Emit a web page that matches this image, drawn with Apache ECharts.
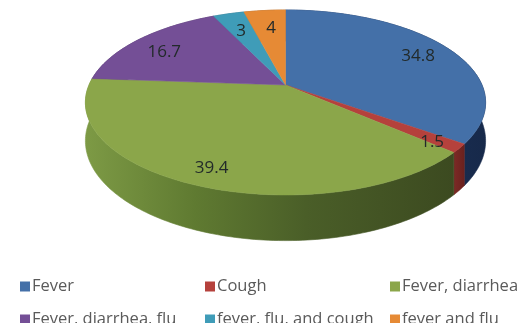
<!DOCTYPE html>
<html>
<head>
<meta charset="utf-8">
<style>html,body{margin:0;padding:0;background:#fff;overflow:hidden}#c{width:520px;height:323px}</style>
<script src="https://cdn.jsdelivr.net/npm/echarts@6/dist/echarts.min.js"></script>
</head>
<body>
<div id="c"></div>
<script>
// Symptom shares shown as a tilted 3D pie
const categories = ['Fever', 'Cough', 'Fever, diarrhea', 'Fever, diarrhea, flu', 'fever, flu, and cough', 'fever and flu'];
const shares = [34.8, 1.5, 39.4, 16.7, 3, 4];
const topColors = ['#4470a8', '#b5413c', '#8ba64a', '#744f96', '#3f9cb8', '#e68a35'];
const wallStops = [
  [[0, '#1f3a68'], [1, '#17294a']],
  [[0, '#7c2a26'], [1, '#6a211e']],
  [[0, '#7d9a45'], [0.3, '#5f7a31'], [0.6, '#4a5e28'], [1, '#3c4a20']],
  [[0, '#4f3568'], [1, '#4f3568']],
  [[0, '#2a6c80'], [1, '#2a6c80']],
  [[0, '#a05f24'], [1, '#a05f24']]
];

// Projection of the disc: a circle seen in perspective, hub near the back
const hub = { x: 285.5, y: 85 };
const radiusX = 196.5, radiusY = 89.2, tilt = 0.189, depth = 37;
const labelReach = [0.81, 0.87, 0.83, 0.82, 0.79, 0.76];
const labelNudge = [[0, 2], [-2, 3], [0, 3], [1, 5], [2, 4], [2, 2]];

// Legend slots, in category order
const legendLefts = [15, 200, 385, 15, 200, 385];
const legendTops = [273, 273, 273, 306, 306, 306];

const total = shares.reduce((a, b) => a + b, 0);

function project(angle, r, drop) {
  const u = Math.sin(angle) * r, v = -Math.cos(angle) * r;
  const w = 1 - tilt * v;
  return [hub.x + radiusX * u / w, hub.y + (radiusY * v + drop) / w];
}

function arc(a0, a1, drop) {
  const pts = [], n = Math.max(2, Math.ceil((a1 - a0) / 0.02));
  for (let i = 0; i <= n; i++) pts.push(project(a0 + (a1 - a0) * i / n, 1, drop));
  return pts;
}

function sliceRenderer(index) {
  return function (params, api) {
    const before = shares.slice(0, index).reduce((a, b) => a + b, 0);
    const a0 = before / total * Math.PI * 2;
    const a1 = a0 + api.value(0) / total * Math.PI * 2;
    const top = arc(a0, a1, 0);
    const bottom = arc(a0, a1, depth).reverse();
    const xs = top.concat(bottom).map(p => p[0]);
    const wallFill = new echarts.graphic.LinearGradient(
      Math.min.apply(null, xs), 0, Math.max.apply(null, xs), 0,
      wallStops[index].map(s => ({ offset: s[0], color: s[1] })), true);
    const mid = (a0 + a1) / 2;
    const at = project(mid, labelReach[index], 0);
    return {
      type: 'group',
      children: [
        {
          type: 'polygon', z2: 1,
          shape: { points: top.concat(bottom) },
          style: { fill: wallFill, stroke: wallFill, lineWidth: 0.6 }
        },
        {
          type: 'polygon', z2: 10,
          shape: { points: [[hub.x, hub.y]].concat(top) },
          style: { fill: topColors[index], stroke: topColors[index], lineWidth: 0.5 }
        },
        {
          type: 'text', z2: 20,
          x: at[0] + labelNudge[index][0], y: at[1] + labelNudge[index][1],
          style: {
            text: String(api.value(0)), fill: '#222a2a',
            font: '17px "Open Sans"', align: 'center', verticalAlign: 'middle'
          }
        }
      ]
    };
  };
}

const chart = echarts.init(document.getElementById('c'), null, { renderer: 'canvas' });
chart.setOption({
  animation: false,
  backgroundColor: '#fff',
  legend: categories.map((name, i) => ({
    data: [{ name: name, icon: 'rect' }],
    left: legendLefts[i], top: legendTops[i],
    itemWidth: 10, itemHeight: 10, itemGap: 0, selectedMode: false,
    textStyle: { fontFamily: 'Open Sans', fontSize: 16.5, color: '#5a5a5a', padding: [0, 0, 0, -3] }
  })),
  series: categories.map((name, i) => ({
    type: 'custom',
    name: name,
    coordinateSystem: 'none',
    itemStyle: { color: topColors[i] },
    data: [[shares[i]]],
    silent: true,
    renderItem: sliceRenderer(i)
  }))
});
</script>
</body>
</html>
